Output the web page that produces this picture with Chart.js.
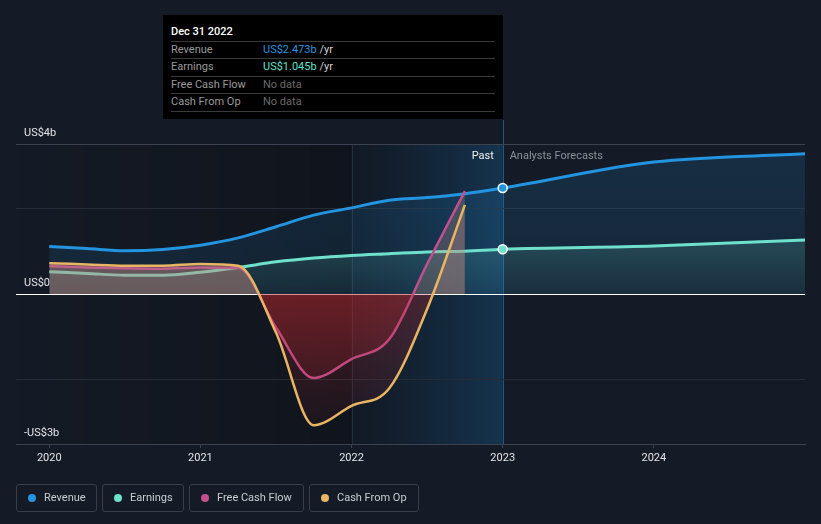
<!DOCTYPE html>
<html><head><meta charset="utf-8">
<script src="https://cdn.jsdelivr.net/npm/chart.js@4.4.0/dist/chart.umd.min.js"></script>
<style>
html,body{margin:0;padding:0;background:#151b26;}
#wrap{position:relative;width:821px;height:524px;font-family:Roboto,"Noto Sans",sans-serif;overflow:hidden;}
#c{position:absolute;left:0;top:0;}
.tt{position:absolute;left:163px;top:15px;width:340px;height:104px;background:#000;}
.tt .t{position:absolute;left:8px;top:10px;font-size:11px;line-height:14px;color:#fff;font-weight:500;}
.tt .sep{position:absolute;left:8px;width:324px;height:1px;background:#3a3a3a;}
.tt .l{position:absolute;left:8px;font-size:11px;line-height:14px;color:#9a9a9a;}
.tt .v{position:absolute;left:100px;font-size:11px;line-height:14px;color:#d4d4d4;}
.lab{position:absolute;font-size:11px;line-height:14px;white-space:nowrap;}
.leg{position:absolute;top:484px;height:26px;border:1px solid #383e4a;border-radius:3px;box-sizing:content-box;}
.leg .d{position:absolute;left:11px;top:9px;width:8px;height:8px;border-radius:50%;}
.leg .x{position:absolute;left:27px;top:6px;font-size:11px;line-height:14px;color:#c9cdd3;white-space:nowrap;}
</style></head>
<body>
<div id="wrap">
<canvas id="c" width="821" height="524"></canvas>
<div class="tt">
  <div class="t">Dec 31 2022</div>
  <div class="sep" style="top:26px"></div>
  <div class="l" style="top:28px">Revenue</div><div class="v" style="top:28px"><span style="color:#2394df">US$2.473b</span> /yr</div>
  <div class="sep" style="top:43px"></div>
  <div class="l" style="top:45px">Earnings</div><div class="v" style="top:45px"><span style="color:#5ee0c8">US$1.045b</span> /yr</div>
  <div class="sep" style="top:61px"></div>
  <div class="l" style="top:63px">Free Cash Flow</div><div class="v" style="top:63px;color:#6b6b6b">No data</div>
  <div class="sep" style="top:78px"></div>
  <div class="l" style="top:80px">Cash From Op</div><div class="v" style="top:80px;color:#6b6b6b">No data</div>
  <div class="sep" style="top:96px"></div>
</div>
<div id="past" class="lab" style="color:#f0f0f0">Past</div>
<div id="fc" class="lab" style="color:#8a9099">Analysts Forecasts</div>
<div class="leg" style="left:16px;width:79px"><div class="d" style="background:#2394df"></div><div class="x">Revenue</div></div>
<div class="leg" style="left:102px;width:80px"><div class="d" style="background:#6ee0cc"></div><div class="x">Earnings</div></div>
<div class="leg" style="left:189px;width:113px"><div class="d" style="background:#c2508f"></div><div class="x">Free Cash Flow</div></div>
<div class="leg" style="left:309px;width:108px"><div class="d" style="background:#e8b562"></div><div class="x">Cash From Op</div></div>
</div>
<script>
// ---- data (US$ billions) ----
const pastQuarters = [2020, 2020.25, 2020.5, 2020.75, 2021, 2021.25, 2021.5, 2021.75, 2022, 2022.25, 2022.5, 2022.75];
const forecastYears = [2023, 2024, 2025];
const revenuePast = [1.11, 1.06, 1.01, 1.04, 1.14, 1.31, 1.57, 1.84, 2.01, 2.19, 2.25, 2.34];
const revenueForecast = [2.473, 3.08, 3.27];
const earningsPast = [0.52, 0.48, 0.44, 0.44, 0.51, 0.62, 0.75, 0.84, 0.90, 0.94, 0.98, 1.00];
const earningsForecast = [1.045, 1.12, 1.26];
const fcfPast = [0.65, 0.62, 0.60, 0.59, 0.62, 0.61, -0.78, -1.96, -1.52, -1.05, 0.70, 2.40];
const cfoPast = [0.72, 0.69, 0.66, 0.66, 0.70, 0.66, -0.90, -3.06, -2.61, -2.20, -0.35, 2.08];
const xTickYears = [2020, 2021, 2022, 2023, 2024];
const yTickValues = [-3.5, -2, 0, 2, 3.5];
const yTickLabels = {"3.5": "US$4b", "0": "US$0", "-3.5": "-US$3b"};
const xMin = 2019.78, xMax = 2025.0, yMin = -3.5, yMax = 3.5;
const bandStart = 2022, nowYear = 2023;

const pts = (xs, ys) => xs.map((x, i) => ({x, y: ys[i]}));
const revenueData = pts(pastQuarters.concat(forecastYears), revenuePast.concat(revenueForecast));
const earningsData = pts(pastQuarters.concat(forecastYears), earningsPast.concat(earningsForecast));
const fcfData = pts(pastQuarters, fcfPast);
const cfoData = pts(pastQuarters, cfoPast);

function vGrad(ctx, y0, y1, stops) {
  const g = ctx.createLinearGradient(0, y0, 0, y1);
  stops.forEach(s => g.addColorStop(s[0], s[1]));
  return g;
}
const nowPoint = c => (c.raw && c.raw.x === nowYear) ? 4.5 : 0;

const bandPlugin = {
  id: 'bands',
  beforeDraw(chart) {
    const {ctx, chartArea: ca, scales: {x}} = chart;
    const x22 = x.getPixelForValue(bandStart), x23 = x.getPixelForValue(nowYear);
    ctx.save();
    let g = ctx.createLinearGradient(ca.left, 0, x22, 0);
    g.addColorStop(0, 'rgba(0,0,0,0)'); g.addColorStop(1, 'rgba(0,0,0,0.24)');
    ctx.fillStyle = g; ctx.fillRect(ca.left, ca.top, x22 - ca.left, ca.bottom - ca.top);
    g = ctx.createLinearGradient(x22, 0, x23, 0);
    g.addColorStop(0, 'rgba(8,20,32,0.25)'); g.addColorStop(1, 'rgba(25,105,165,0.32)');
    ctx.fillStyle = g; ctx.fillRect(x22, ca.top, x23 - x22, ca.bottom - ca.top);
    ctx.lineWidth = 1;
    ctx.strokeStyle = 'rgba(70,90,110,0.35)';
    ctx.beginPath(); ctx.moveTo(Math.round(x22) + 0.5, ca.top); ctx.lineTo(Math.round(x22) + 0.5, ca.bottom); ctx.stroke();
    ctx.strokeStyle = 'rgba(35,110,160,0.75)';
    ctx.beginPath(); ctx.moveTo(Math.round(x23) + 0.5, ca.top - 24); ctx.lineTo(Math.round(x23) + 0.5, ca.bottom); ctx.stroke();
    ctx.restore();
  }
};

const chart = new Chart(document.getElementById('c'), {
  type: 'line',
  data: {
    datasets: [
      {label: 'Revenue', data: revenueData, order: 4, borderColor: '#2394df', borderWidth: 3,
       pointRadius: nowPoint, pointHoverRadius: nowPoint, pointBackgroundColor: '#2394df', pointBorderColor: '#ffffff', pointBorderWidth: 1.5,
       fill: 'origin',
       backgroundColor: c => { const ca = c.chart.chartArea; if (!ca) return 'rgba(35,148,223,0.13)';
         return vGrad(c.chart.ctx, ca.top, c.chart.scales.y.getPixelForValue(0), [[0,'rgba(35,148,223,0.16)'],[1,'rgba(35,148,223,0.10)']]); }},
      {label: 'Earnings', data: earningsData, order: 3, borderColor: '#6ee0cc', borderWidth: 3,
       pointRadius: nowPoint, pointHoverRadius: nowPoint, pointBackgroundColor: '#6ee0cc', pointBorderColor: '#ffffff', pointBorderWidth: 1.5,
       fill: 'origin',
       backgroundColor: c => { const ca = c.chart.chartArea; if (!ca) return 'rgba(94,224,200,0.1)';
         const y = c.chart.scales.y; return vGrad(c.chart.ctx, y.getPixelForValue(1.1), y.getPixelForValue(0), [[0,'rgba(110,224,204,0.16)'],[1,'rgba(110,224,204,0.04)']]); }},
      {label: 'Free Cash Flow', data: fcfData, order: 2, borderColor: '#c2508f', borderWidth: 2.5, pointRadius: 0,
       fill: {target: 'origin', above: 'rgba(190,140,130,0.28)', below: 'rgba(190,40,45,0.2)'}},
      {label: 'Cash From Op', data: cfoData, order: 1, borderColor: '#e8b562', borderWidth: 2.5, pointRadius: 0,
       fill: {target: 'origin', above: 'rgba(190,140,130,0.28)', below: 'rgba(190,40,45,0.2)'}}
    ]
  },
  options: {
    responsive: false, animation: false, events: [],
    layout: {padding: {left: 16, right: 16, top: 144, bottom: 52}},
    elements: {line: {cubicInterpolationMode: 'monotone'}},
    plugins: {legend: {display: false}, tooltip: {enabled: false}},
    scales: {
      x: {type: 'linear', min: xMin, max: xMax,
          afterBuildTicks: s => { s.ticks = xTickYears.map(v => ({value: v})); },
          afterFit: s => { s.height = 28; },
          ticks: {color: '#e2e4e8', font: {family: 'Roboto', size: 11}, padding: 4, maxRotation: 0, autoSkip: false, callback: v => String(v)},
          grid: {drawOnChartArea: false, drawTicks: true, tickLength: 4, color: '#3c4250'},
          border: {display: true, color: '#3c4250'}},
      y: {min: yMin, max: yMax,
          afterBuildTicks: s => { s.ticks = yTickValues.map(v => ({value: v})); },
          afterFit: s => { s.width = 0; },
          ticks: {mirror: true, padding: 8, labelOffset: -11, color: '#e2e4e8', font: {family: 'Roboto', size: 11},
                  callback: v => yTickLabels[String(v)] || ''},
          grid: {drawTicks: false, color: c => c.tick.value === 0 ? '#ffffff' : (Math.abs(c.tick.value) === yMax ? '#3c4250' : '#262c37')},
          border: {display: false}}
    }
  },
  plugins: [bandPlugin]
});

// gradient fills for the cash-flow series, built from the chart's own y scale
(function () {
  const ctx = chart.ctx, y = chart.scales.y, ca = chart.chartArea;
  const z = y.getPixelForValue(0);
  const below = () => vGrad(ctx, z, ca.bottom, [[0,'rgba(190,40,45,0.30)'],[1,'rgba(190,40,45,0.03)']]);
  chart.data.datasets[2].fill = {target: 'origin', above: 'rgba(190,140,130,0.28)', below: below()};
  chart.data.datasets[3].fill = {target: 'origin', above: 'rgba(190,140,130,0.28)', below: below()};
  chart.update('none');
  const x23 = chart.scales.x.getPixelForValue(nowYear);
  const past = document.getElementById('past'), fc = document.getElementById('fc');
  past.style.left = (x23 - 9 - past.offsetWidth) + 'px'; past.style.top = (ca.top + 5) + 'px';
  fc.style.left = (x23 + 7) + 'px'; fc.style.top = (ca.top + 5) + 'px';
})();
</script>
</body></html>
